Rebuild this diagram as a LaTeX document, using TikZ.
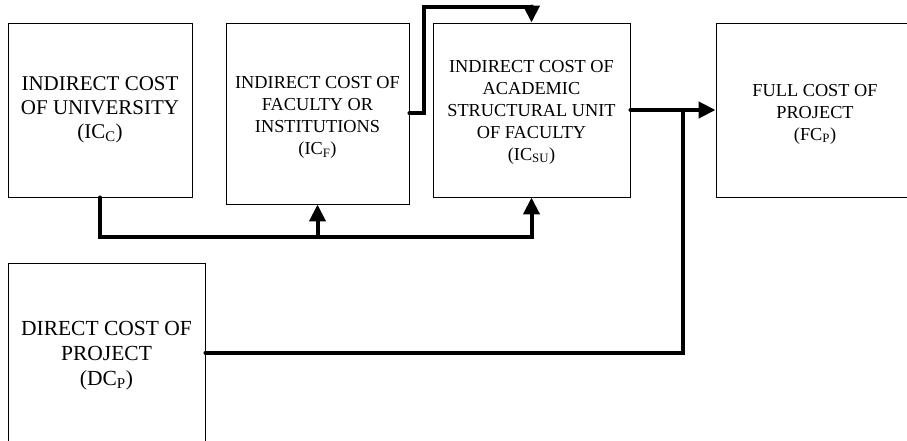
\documentclass[tikz,border=0pt]{standalone}
\usepackage{fontspec}
\setmainfont{Liberation Serif}
\usetikzlibrary{arrows.meta}
\newcommand{\lift}[1]{\rule{0pt}{#1}}
\tikzset{
  box/.style={draw=black, line width=0.9pt, rectangle, align=center, inner sep=0pt},
  bigtext/.style={font=\fontsize{21}{24}\selectfont},
  dctext/.style={font=\fontsize{21.5}{25}\selectfont},
  smalltext/.style={font=\fontsize{18.3}{22}\selectfont},
  conn/.style={line width=4pt, line cap=round, line join=miter},
  tip/.style={-{Triangle[length=17pt,width=16pt]}}
}
\begin{document}
\begin{tikzpicture}[x=1pt,y=-1pt]
\clip (0,0) rectangle (907,441);
\fill[white] (0,0) rectangle (907,441);
\node[box,bigtext,minimum width=184pt,minimum height=174pt] (b1) at (100,110)
  {INDIRECT COST\\OF UNIVERSITY\\(IC\textsubscript{C})};
\node[box,smalltext,minimum width=183pt,minimum height=181pt] (b2) at (317.5,113.5)
  {\lift{20pt}INDIRECT COST OF\\FACULTY OR\\INSTITUTIONS\\(IC\textsubscript{F})};
\node[box,smalltext,minimum width=197pt,minimum height=174pt] (b3) at (531.5,110)
  {\lift{16pt}INDIRECT COST OF\\ACADEMIC\\STRUCTURAL UNIT\\OF FACULTY\\(IC\textsubscript{SU})};
\node[box,smalltext,minimum width=198pt,minimum height=174pt] (b4) at (815,110)
  {\lift{20pt}FULL COST OF\\PROJECT\\(FC\textsubscript{P})};
\node[box,dctext,minimum width=197pt,minimum height=180pt,text depth=0pt] (b5) at (106.5,353)
  {DIRECT COST OF\\PROJECT\\(DC\textsubscript{P})};
\coordinate (lowbus) at (0,237);
\coordinate (topbus) at (0,7);
\coordinate (riser) at (424,0);
\coordinate (join) at (683,110);
\draw[conn,tip] (b1.south) |- (lowbus -| b3.south) -- (b3.south);
\draw[conn,tip] (lowbus -| b2.south) -- (b2.south);
\draw[conn,tip] (b2.east) -- (b2.east -| riser) |- (topbus -| b3.north) -- (b3.north);
\draw[conn,tip] (b3.east) -- (b4.west);
\draw[conn] (b5.east) -| (join);
\end{tikzpicture}
\end{document}
